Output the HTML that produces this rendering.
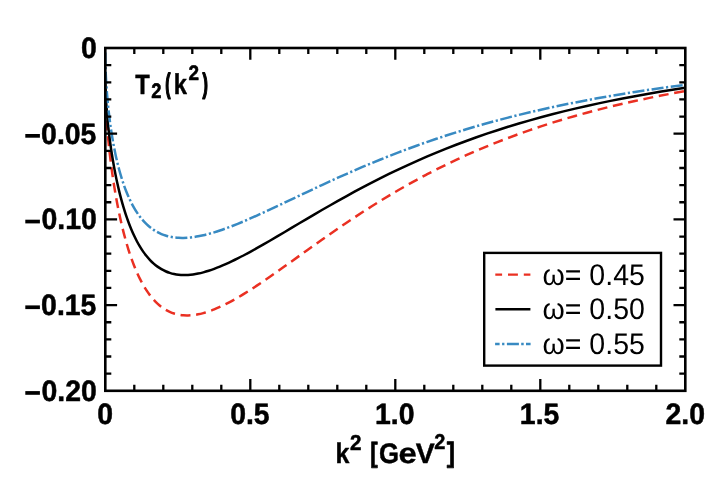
<!DOCTYPE html>
<html><head><meta charset="utf-8"><title>T2(k^2)</title>
<style>
html,body{margin:0;padding:0;background:#fff;}
svg{display:block;will-change:transform;}
text{font-family:"Liberation Sans",sans-serif;fill:#000;text-rendering:geometricPrecision;}
.b{font-weight:bold;}
</style></head><body>
<svg width="723" height="482" viewBox="0 0 723 482">
<rect x="0" y="0" width="723" height="482" fill="#fff"/>
<defs><clipPath id="pc"><rect x="105.3" y="48.0" width="580.0" height="342.8"/></clipPath></defs>
<!-- curves -->
<g clip-path="url(#pc)" fill="none" stroke-linejoin="round">
<path d="M105.30,81.68C105.30,84.31 105.32,87.01 105.37,89.76C105.42,92.52 105.49,95.33 105.59,98.20C105.68,101.07 105.80,104.00 105.94,106.98C106.09,109.96 106.25,112.99 106.45,116.06C106.64,119.14 106.85,122.26 107.09,125.41C107.33,128.57 107.59,131.77 107.88,135.00C108.16,138.22 108.47,141.48 108.81,144.77C109.14,148.05 109.50,151.36 109.88,154.68C110.26,158.00 110.67,161.33 111.10,164.67C111.53,168.02 111.98,171.36 112.46,174.71C112.94,178.05 113.44,181.39 113.96,184.72C114.49,188.05 115.04,191.37 115.61,194.66C116.18,197.96 116.78,201.23 117.40,204.47C118.02,207.72 118.67,210.93 119.33,214.10C120.00,217.27 120.70,220.40 121.41,223.49C122.13,226.57 122.87,229.61 123.63,232.59C124.39,235.57 125.18,238.50 125.99,241.36C126.81,244.23 127.64,247.03 128.50,249.76C129.36,252.49 130.24,255.15 131.15,257.74C132.06,260.33 132.99,262.84 133.94,265.28C134.90,267.71 135.88,270.06 136.88,272.33C137.88,274.60 138.91,276.79 139.96,278.89C141.01,280.99 142.08,283.00 143.18,284.93C144.28,286.85 145.40,288.68 146.54,290.43C147.69,292.17 148.86,293.82 150.05,295.38C151.25,296.94 152.46,298.41 153.70,299.78C154.95,301.16 156.21,302.44 157.50,303.63C158.79,304.82 160.10,305.92 161.44,306.92C162.77,307.93 164.14,308.84 165.52,309.67C166.90,310.49 168.31,311.22 169.74,311.87C171.18,312.51 172.63,313.07 174.11,313.54C175.59,314.00 177.10,314.39 178.62,314.68C180.15,314.98 181.70,315.19 183.28,315.32C184.85,315.45 186.45,315.50 188.08,315.46C189.70,315.43 191.35,315.32 193.02,315.13C194.69,314.95 196.38,314.68 198.10,314.34C199.82,314.01 201.56,313.59 203.33,313.11C205.09,312.63 206.88,312.08 208.70,311.46C210.51,310.85 212.35,310.16 214.21,309.41C216.07,308.67 217.96,307.85 219.87,306.98C221.78,306.11 223.71,305.18 225.67,304.20C227.63,303.21 229.61,302.17 231.61,301.07C233.62,299.98 235.64,298.83 237.70,297.63C239.75,296.44 241.83,295.19 243.93,293.90C246.03,292.61 248.15,291.27 250.30,289.90C252.45,288.52 254.62,287.10 256.82,285.65C259.01,284.19 261.23,282.70 263.48,281.17C265.72,279.64 267.99,278.08 270.28,276.48C272.57,274.89 274.88,273.27 277.22,271.62C279.56,269.97 281.93,268.29 284.31,266.59C286.70,264.89 289.11,263.17 291.54,261.42C293.98,259.68 296.44,257.92 298.92,256.14C301.40,254.36 303.91,252.56 306.44,250.75C308.97,248.94 311.52,247.12 314.10,245.28C316.68,243.45 319.28,241.61 321.90,239.76C324.53,237.91 327.18,236.05 329.85,234.19C332.53,232.33 335.22,230.46 337.94,228.59C340.67,226.73 343.41,224.86 346.18,222.99C348.95,221.12 351.74,219.26 354.56,217.39C357.37,215.53 360.21,213.67 363.08,211.82C365.94,209.97 368.83,208.12 371.74,206.28C374.65,204.44 377.59,202.61 380.55,200.79C383.51,198.97 386.49,197.16 389.50,195.37C392.51,193.57 395.54,191.78 398.59,190.01C401.65,188.24 404.73,186.48 407.83,184.74C410.93,182.99 414.06,181.26 417.21,179.55C420.36,177.84 423.54,176.14 426.73,174.46C429.93,172.79 433.16,171.13 436.40,169.48C439.65,167.84 442.92,166.22 446.21,164.61C449.50,163.01 452.82,161.43 456.16,159.86C459.51,158.30 462.87,156.75 466.26,155.23C469.65,153.70 473.06,152.20 476.50,150.72C479.94,149.24 483.40,147.77 486.88,146.34C490.37,144.90 493.88,143.48 497.41,142.08C500.94,140.68 504.50,139.31 508.08,137.96C511.66,136.60 515.26,135.27 518.89,133.96C522.52,132.65 526.17,131.36 529.85,130.10C533.52,128.83 537.22,127.59 540.94,126.37C544.67,125.14 548.42,123.94 552.19,122.76C555.96,121.58 559.75,120.42 563.57,119.28C567.39,118.15 571.23,117.03 575.10,115.93C578.97,114.84 582.86,113.76 586.77,112.71C590.69,111.65 594.62,110.62 598.59,109.61C602.55,108.59 606.53,107.60 610.54,106.62C614.55,105.65 618.59,104.69 622.65,103.75C626.70,102.82 630.78,101.90 634.89,101.00C639.00,100.10 643.12,99.22 647.28,98.36C651.43,97.50 655.61,96.65 659.81,95.83C664.01,95.00 668.23,94.19 672.48,93.40C676.73,92.61 681.00,91.83 685.30,91.07" stroke="#EA3022" stroke-width="2.5" stroke-dasharray="9.96 5.70" stroke-dashoffset="8.1"/>
<path d="M105.30,76.28C105.30,78.60 105.32,80.97 105.37,83.39C105.42,85.81 105.49,88.29 105.59,90.81C105.68,93.34 105.80,95.91 105.94,98.53C106.09,101.15 106.25,103.81 106.45,106.51C106.64,109.21 106.85,111.95 107.09,114.72C107.33,117.49 107.59,120.30 107.88,123.13C108.16,125.96 108.47,128.81 108.81,131.68C109.14,134.56 109.50,137.45 109.88,140.35C110.26,143.25 110.67,146.16 111.10,149.07C111.53,151.99 111.98,154.90 112.46,157.81C112.94,160.72 113.44,163.62 113.96,166.51C114.49,169.40 115.04,172.27 115.61,175.12C116.18,177.97 116.78,180.80 117.40,183.60C118.02,186.39 118.67,189.16 119.33,191.88C120.00,194.61 120.70,197.30 121.41,199.94C122.13,202.58 122.87,205.18 123.63,207.72C124.39,210.26 125.18,212.75 125.99,215.18C126.81,217.61 127.64,219.98 128.50,222.29C129.36,224.60 130.24,226.84 131.15,229.02C132.06,231.19 132.99,233.30 133.94,235.34C134.90,237.37 135.88,239.33 136.88,241.22C137.88,243.10 138.91,244.91 139.96,246.64C141.01,248.38 142.08,250.03 143.18,251.60C144.28,253.18 145.40,254.67 146.54,256.09C147.69,257.50 148.86,258.83 150.05,260.09C151.25,261.34 152.46,262.51 153.70,263.60C154.95,264.69 156.21,265.70 157.50,266.63C158.79,267.56 160.10,268.41 161.44,269.19C162.77,269.96 164.14,270.65 165.52,271.26C166.90,271.88 168.31,272.42 169.74,272.88C171.18,273.34 172.63,273.73 174.11,274.04C175.59,274.36 177.10,274.60 178.62,274.77C180.15,274.94 181.70,275.04 183.28,275.07C184.85,275.10 186.45,275.06 188.08,274.96C189.70,274.85 191.35,274.68 193.02,274.45C194.69,274.22 196.38,273.93 198.10,273.57C199.82,273.22 201.56,272.81 203.33,272.34C205.09,271.87 206.88,271.34 208.70,270.76C210.51,270.18 212.35,269.55 214.21,268.87C216.07,268.18 217.96,267.45 219.87,266.67C221.78,265.89 223.71,265.06 225.67,264.19C227.63,263.32 229.61,262.40 231.61,261.44C233.62,260.49 235.64,259.49 237.70,258.45C239.75,257.42 241.83,256.35 243.93,255.24C246.03,254.13 248.15,252.99 250.30,251.81C252.45,250.64 254.62,249.43 256.82,248.20C259.01,246.96 261.23,245.70 263.48,244.41C265.72,243.13 267.99,241.81 270.28,240.47C272.57,239.14 274.88,237.78 277.22,236.40C279.56,235.02 281.93,233.62 284.31,232.21C286.70,230.79 289.11,229.36 291.54,227.91C293.98,226.47 296.44,225.00 298.92,223.53C301.40,222.06 303.91,220.57 306.44,219.08C308.97,217.59 311.52,216.08 314.10,214.57C316.68,213.07 319.28,211.55 321.90,210.03C324.53,208.51 327.18,206.98 329.85,205.46C332.53,203.93 335.22,202.40 337.94,200.87C340.67,199.34 343.41,197.81 346.18,196.29C348.95,194.76 351.74,193.23 354.56,191.71C357.37,190.19 360.21,188.67 363.08,187.16C365.94,185.65 368.83,184.14 371.74,182.64C374.65,181.14 377.59,179.65 380.55,178.16C383.51,176.68 386.49,175.20 389.50,173.74C392.51,172.27 395.54,170.81 398.59,169.37C401.65,167.92 404.73,166.49 407.83,165.07C410.93,163.65 414.06,162.24 417.21,160.84C420.36,159.44 423.54,158.06 426.73,156.69C429.93,155.32 433.16,153.97 436.40,152.63C439.65,151.28 442.92,149.96 446.21,148.65C449.50,147.34 452.82,146.04 456.16,144.76C459.51,143.48 462.87,142.22 466.26,140.97C469.65,139.73 473.06,138.50 476.50,137.28C479.94,136.07 483.40,134.87 486.88,133.69C490.37,132.51 493.88,131.34 497.41,130.20C500.94,129.05 504.50,127.92 508.08,126.81C511.66,125.70 515.26,124.60 518.89,123.52C522.52,122.44 526.17,121.38 529.85,120.34C533.52,119.29 537.22,118.27 540.94,117.26C544.67,116.25 548.42,115.25 552.19,114.28C555.96,113.30 559.75,112.34 563.57,111.40C567.39,110.45 571.23,109.53 575.10,108.62C578.97,107.71 582.86,106.81 586.77,105.94C590.69,105.06 594.62,104.20 598.59,103.35C602.55,102.51 606.53,101.68 610.54,100.86C614.55,100.05 618.59,99.25 622.65,98.47C626.70,97.68 630.78,96.91 634.89,96.16C639.00,95.41 643.12,94.67 647.28,93.94C651.43,93.22 655.61,92.51 659.81,91.81C664.01,91.11 668.23,90.43 672.48,89.76C676.73,89.09 681.00,88.44 685.30,87.80" stroke="#000" stroke-width="2.5"/>
<path d="M105.30,52.57C105.30,55.20 105.32,57.88 105.37,60.60C105.42,63.33 105.49,66.09 105.59,68.89C105.68,71.69 105.80,74.52 105.94,77.38C106.09,80.24 106.25,83.12 106.45,86.03C106.64,88.93 106.85,91.85 107.09,94.79C107.33,97.72 107.59,100.66 107.88,103.60C108.16,106.55 108.47,109.49 108.81,112.43C109.14,115.36 109.50,118.29 109.88,121.21C110.26,124.12 110.67,127.02 111.10,129.89C111.53,132.76 111.98,135.61 112.46,138.42C112.94,141.24 113.44,144.02 113.96,146.77C114.49,149.51 115.04,152.22 115.61,154.88C116.18,157.54 116.78,160.16 117.40,162.72C118.02,165.28 118.67,167.80 119.33,170.25C120.00,172.71 120.70,175.11 121.41,177.45C122.13,179.78 122.87,182.06 123.63,184.28C124.39,186.49 125.18,188.64 125.99,190.72C126.81,192.80 127.64,194.82 128.50,196.77C129.36,198.71 130.24,200.59 131.15,202.40C132.06,204.21 132.99,205.94 133.94,207.61C134.90,209.27 135.88,210.87 136.88,212.39C137.88,213.91 138.91,215.36 139.96,216.74C141.01,218.12 142.08,219.43 143.18,220.66C144.28,221.90 145.40,223.06 146.54,224.16C147.69,225.25 148.86,226.28 150.05,227.24C151.25,228.19 152.46,229.08 153.70,229.90C154.95,230.72 156.21,231.48 157.50,232.17C158.79,232.85 160.10,233.48 161.44,234.04C162.77,234.59 164.14,235.09 165.52,235.52C166.90,235.96 168.31,236.33 169.74,236.64C171.18,236.96 172.63,237.21 174.11,237.41C175.59,237.60 177.10,237.74 178.62,237.82C180.15,237.91 181.70,237.94 183.28,237.91C184.85,237.89 186.45,237.82 188.08,237.69C189.70,237.56 191.35,237.39 193.02,237.16C194.69,236.94 196.38,236.67 198.10,236.35C199.82,236.03 201.56,235.67 203.33,235.26C205.09,234.86 206.88,234.41 208.70,233.92C210.51,233.43 212.35,232.90 214.21,232.33C216.07,231.76 217.96,231.15 219.87,230.51C221.78,229.87 223.71,229.19 225.67,228.47C227.63,227.76 229.61,227.02 231.61,226.24C233.62,225.46 235.64,224.65 237.70,223.82C239.75,222.98 241.83,222.11 243.93,221.22C246.03,220.33 248.15,219.41 250.30,218.46C252.45,217.52 254.62,216.55 256.82,215.56C259.01,214.57 261.23,213.56 263.48,212.53C265.72,211.50 267.99,210.45 270.28,209.38C272.57,208.31 274.88,207.22 277.22,206.12C279.56,205.02 281.93,203.90 284.31,202.77C286.70,201.64 289.11,200.49 291.54,199.34C293.98,198.18 296.44,197.01 298.92,195.84C301.40,194.66 303.91,193.47 306.44,192.28C308.97,191.09 311.52,189.88 314.10,188.68C316.68,187.47 319.28,186.26 321.90,185.04C324.53,183.83 327.18,182.61 329.85,181.38C332.53,180.16 335.22,178.94 337.94,177.71C340.67,176.49 343.41,175.26 346.18,174.04C348.95,172.81 351.74,171.59 354.56,170.37C357.37,169.15 360.21,167.93 363.08,166.71C365.94,165.50 368.83,164.28 371.74,163.08C374.65,161.87 377.59,160.67 380.55,159.47C383.51,158.27 386.49,157.08 389.50,155.90C392.51,154.72 395.54,153.54 398.59,152.37C401.65,151.21 404.73,150.05 407.83,148.90C410.93,147.74 414.06,146.60 417.21,145.47C420.36,144.34 423.54,143.21 426.73,142.10C429.93,140.99 433.16,139.89 436.40,138.80C439.65,137.70 442.92,136.62 446.21,135.55C449.50,134.49 452.82,133.43 456.16,132.38C459.51,131.34 462.87,130.30 466.26,129.28C469.65,128.26 473.06,127.25 476.50,126.25C479.94,125.26 483.40,124.27 486.88,123.30C490.37,122.33 493.88,121.37 497.41,120.43C500.94,119.48 504.50,118.55 508.08,117.63C511.66,116.71 515.26,115.80 518.89,114.91C522.52,114.02 526.17,113.14 529.85,112.27C533.52,111.40 537.22,110.55 540.94,109.71C544.67,108.87 548.42,108.04 552.19,107.22C555.96,106.41 559.75,105.61 563.57,104.82C567.39,104.03 571.23,103.25 575.10,102.49C578.97,101.72 582.86,100.97 586.77,100.24C590.69,99.50 594.62,98.77 598.59,98.06C602.55,97.35 606.53,96.64 610.54,95.96C614.55,95.27 618.59,94.59 622.65,93.93C626.70,93.26 630.78,92.61 634.89,91.97C639.00,91.33 643.12,90.70 647.28,90.08C651.43,89.46 655.61,88.86 659.81,88.26C664.01,87.66 668.23,87.08 672.48,86.51C676.73,85.93 681.00,85.37 685.30,84.82" stroke="#388AC2" stroke-width="2.5" stroke-dasharray="12 2.55 2.2 2.55" stroke-dashoffset="0"/>
</g>
<!-- ticks + frame -->
<path d="M134.30,390.8v-6.0 M134.30,48.0v6.0 M163.30,390.8v-6.0 M163.30,48.0v6.0 M192.30,390.8v-6.0 M192.30,48.0v6.0 M221.30,390.8v-6.0 M221.30,48.0v6.0 M250.30,390.8v-11.8 M250.30,48.0v11.8 M279.30,390.8v-6.0 M279.30,48.0v6.0 M308.30,390.8v-6.0 M308.30,48.0v6.0 M337.30,390.8v-6.0 M337.30,48.0v6.0 M366.30,390.8v-6.0 M366.30,48.0v6.0 M395.30,390.8v-11.8 M395.30,48.0v11.8 M424.30,390.8v-6.0 M424.30,48.0v6.0 M453.30,390.8v-6.0 M453.30,48.0v6.0 M482.30,390.8v-6.0 M482.30,48.0v6.0 M511.30,390.8v-6.0 M511.30,48.0v6.0 M540.30,390.8v-11.8 M540.30,48.0v11.8 M569.30,390.8v-6.0 M569.30,48.0v6.0 M598.30,390.8v-6.0 M598.30,48.0v6.0 M627.30,390.8v-6.0 M627.30,48.0v6.0 M656.30,390.8v-6.0 M656.30,48.0v6.0 M105.3,65.14h6.0 M685.3,65.14h-6.0 M105.3,82.28h6.0 M685.3,82.28h-6.0 M105.3,99.42h6.0 M685.3,99.42h-6.0 M105.3,116.56h6.0 M685.3,116.56h-6.0 M105.3,133.70h11.8 M685.3,133.70h-11.8 M105.3,150.84h6.0 M685.3,150.84h-6.0 M105.3,167.98h6.0 M685.3,167.98h-6.0 M105.3,185.12h6.0 M685.3,185.12h-6.0 M105.3,202.26h6.0 M685.3,202.26h-6.0 M105.3,219.40h11.8 M685.3,219.40h-11.8 M105.3,236.54h6.0 M685.3,236.54h-6.0 M105.3,253.68h6.0 M685.3,253.68h-6.0 M105.3,270.82h6.0 M685.3,270.82h-6.0 M105.3,287.96h6.0 M685.3,287.96h-6.0 M105.3,305.10h11.8 M685.3,305.10h-11.8 M105.3,322.24h6.0 M685.3,322.24h-6.0 M105.3,339.38h6.0 M685.3,339.38h-6.0 M105.3,356.52h6.0 M685.3,356.52h-6.0 M105.3,373.66h6.0 M685.3,373.66h-6.0" stroke="#000" stroke-width="2.3" fill="none"/>
<rect x="105.3" y="48.0" width="580.0" height="342.8" fill="none" stroke="#000" stroke-width="2.6"/>
<!-- tick labels -->
<text class="b" font-size="28.4" stroke="#000" stroke-width="0.5" stroke-linejoin="round" transform="matrix(1.0 0 0 1.04 80.970 57.950)">0</text>
<text class="b" font-size="28.4" stroke="#000" stroke-width="0.5" stroke-linejoin="round" transform="matrix(1.0 0 0 1.04 41.116 143.650)">0.05</text>
<rect x="25.3" y="134.00" width="14.6" height="3.7" fill="#000"/>
<text class="b" font-size="28.4" stroke="#000" stroke-width="0.5" stroke-linejoin="round" transform="matrix(1.0 0 0 1.04 41.490 229.350)">0.10</text>
<rect x="25.3" y="219.70" width="14.6" height="3.7" fill="#000"/>
<text class="b" font-size="28.4" stroke="#000" stroke-width="0.5" stroke-linejoin="round" transform="matrix(1.0 0 0 1.04 41.116 315.050)">0.15</text>
<rect x="25.3" y="305.40" width="14.6" height="3.7" fill="#000"/>
<text class="b" font-size="28.4" stroke="#000" stroke-width="0.5" stroke-linejoin="round" transform="matrix(1.0 0 0 1.04 41.490 400.750)">0.20</text>
<rect x="25.3" y="391.10" width="14.6" height="3.7" fill="#000"/>
<text class="b" font-size="28.4" stroke="#000" stroke-width="0.5" stroke-linejoin="round" transform="matrix(1.0 0 0 1.04 97.223 423.700)">0</text>
<text class="b" font-size="28.4" stroke="#000" stroke-width="0.5" stroke-linejoin="round" transform="matrix(1.0 0 0 1.04 230.194 423.700)">0.5</text>
<text class="b" font-size="28.4" stroke="#000" stroke-width="0.5" stroke-linejoin="round" transform="matrix(1.0 0 0 1.04 375.048 423.700)">1.0</text>
<text class="b" font-size="28.4" stroke="#000" stroke-width="0.5" stroke-linejoin="round" transform="matrix(1.0 0 0 1.04 519.861 423.700)">1.5</text>
<text class="b" font-size="28.4" stroke="#000" stroke-width="0.5" stroke-linejoin="round" transform="matrix(1.0 0 0 1.04 665.450 423.700)">2.0</text>
<!-- plot label -->
<text class="b" font-size="100" stroke="#000" stroke-width="1.68" stroke-linejoin="round" transform="matrix(0.23774 0 0 0.27809 135.283 93.516)">T</text>
<text class="b" font-size="100" stroke="#000" stroke-width="2.70" stroke-linejoin="round" transform="matrix(0.18486 0 0 0.20957 151.159 98.167)">2</text>
<text class="b" font-size="100" stroke="#000" stroke-width="5.77" stroke-linejoin="round" transform="matrix(0.15590 0 0 0.27782 165.324 92.883)">(</text>
<text class="b" font-size="100" stroke="#000" stroke-width="1.69" stroke-linejoin="round" transform="matrix(0.23599 0 0 0.28588 173.802 93.508)">k</text>
<text class="b" font-size="100" stroke="#000" stroke-width="2.65" stroke-linejoin="round" transform="matrix(0.18901 0 0 0.20974 188.545 80.073)">2</text>
<text class="b" font-size="100" stroke="#000" stroke-width="5.52" stroke-linejoin="round" transform="matrix(0.16299 0 0 0.27852 202.584 92.901)">)</text>
<!-- x axis label -->
<text class="b" font-size="100" stroke="#000" stroke-width="1.60" stroke-linejoin="round" transform="matrix(0.25036 0 0 0.28356 335.402 462.523)">k</text>
<text class="b" font-size="100" stroke="#000" stroke-width="2.43" stroke-linejoin="round" transform="matrix(0.20563 0 0 0.21590 349.887 449.788)">2</text>
<text class="b" font-size="100" stroke="#000" stroke-width="2.69" stroke-linejoin="round" transform="matrix(0.22294 0 0 0.27945 370.298 462.175)">[</text>
<text class="b" font-size="100" stroke="#000" stroke-width="1.55" stroke-linejoin="round" transform="matrix(0.25785 0 0 0.28334 378.892 463.054)">G</text>
<text class="b" font-size="100" stroke="#000" stroke-width="1.21" stroke-linejoin="round" transform="matrix(0.32925 0 0 0.28571 398.464 463.097)">e</text>
<text class="b" font-size="100" stroke="#000" stroke-width="1.40" stroke-linejoin="round" transform="matrix(0.28470 0 0 0.28061 415.655 462.853)">V</text>
<text class="b" font-size="100" stroke="#000" stroke-width="2.51" stroke-linejoin="round" transform="matrix(0.19940 0 0 0.21429 434.309 449.381)">2</text>
<text class="b" font-size="100" stroke="#000" stroke-width="2.41" stroke-linejoin="round" transform="matrix(0.24939 0 0 0.28028 446.746 462.196)">]</text>
<!-- legend -->
<rect x="484.2" y="252.9" width="176.8" height="112.7" fill="#fff" stroke="#000" stroke-width="2.4"/>
<path d="M495.3,274.6h6.8 M508,274.6h9.9 M523.8,274.6h6.6" stroke="#EA3022" stroke-width="2.4" fill="none"/>
<path d="M495.4,309.3H530.4" stroke="#000" stroke-width="2.4" fill="none"/>
<path d="M495.1,344.0h4.5 M502.1,344.0h2.3 M506.9,344.0h12 M521.2,344.0h2.5 M526,344.0h4.6" stroke="#388AC2" stroke-width="2.4" fill="none"/>
<text font-size="28.5" transform="matrix(1.0 0 0 1.05 542.545 284.500)">ω= 0.45</text>
<text font-size="28.5" transform="matrix(1.0 0 0 1.05 542.545 319.200)">ω= 0.50</text>
<text font-size="28.5" transform="matrix(1.0 0 0 1.05 542.545 353.900)">ω= 0.55</text>
</svg>
</body></html>
